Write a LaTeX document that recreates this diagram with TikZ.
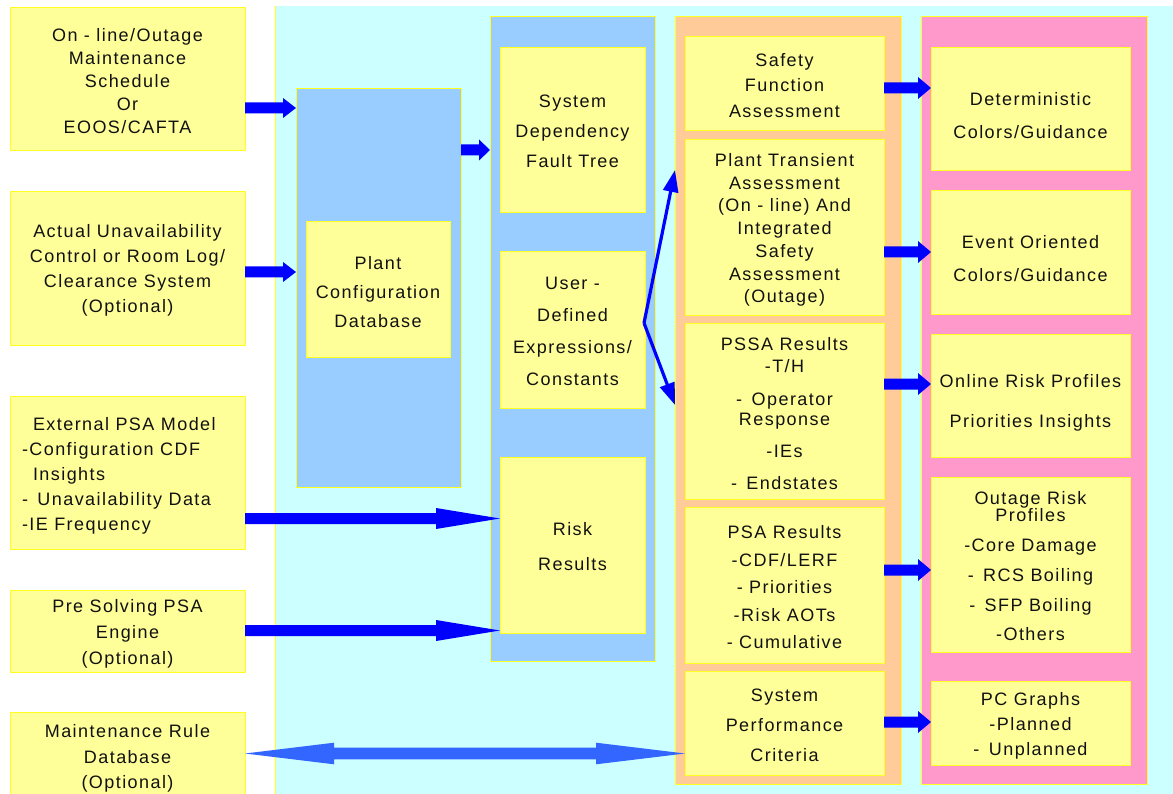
\documentclass[tikz,border=0pt]{standalone}
\usepackage{fontspec}
\setmainfont{Liberation Sans}[LetterSpace=8]
\usetikzlibrary{arrows.meta,calc}
\definecolor{ylw}{HTML}{FFFF99}
\definecolor{yedge}{HTML}{FFFF22}
\definecolor{bluebox}{HTML}{99CCFF}
\definecolor{cyanbg}{HTML}{CCFFFF}
\definecolor{orangebox}{HTML}{FFCC99}
\definecolor{pinkbox}{HTML}{FF99CC}
\definecolor{arrblue}{HTML}{0000FF}
\definecolor{arrblueb}{HTML}{3366FF}
\definecolor{txt}{HTML}{111111}
% block arrow: [colour]{from}{to}{y}{head length}{head half height}
\newcommand\harr[6][arrblue]{%
  \fill[#1] let \p1=(#2), \p2=(#3), \p3=(0,#4) in
    (\x1,\y3+5.5pt) -- (\x2-#5pt,\y3+5.5pt) -- (\x2-#5pt,\y3+#6pt) -- (\x2,\y3)
    -- (\x2-#5pt,\y3-#6pt) -- (\x2-#5pt,\y3-5.5pt) -- (\x1,\y3-5.5pt) -- cycle;}
\newcommand\dharr[6][arrblueb]{%
  \fill[#1] let \p1=(#2), \p2=(#3), \p3=(0,#4) in
    (\x1,\y3) -- (\x1+#5pt,\y3+#6pt) -- (\x1+#5pt,\y3+5.8pt) -- (\x2-#5pt,\y3+5.8pt)
    -- (\x2-#5pt,\y3+#6pt) -- (\x2,\y3) -- (\x2-#5pt,\y3-#6pt) -- (\x2-#5pt,\y3-5.8pt)
    -- (\x1+#5pt,\y3-5.8pt) -- (\x1+#5pt,\y3-#6pt) -- cycle;}
\begin{document}
\begin{tikzpicture}[x=1pt,y=-1pt,
  every node/.style={inner sep=0pt,outer sep=0pt},
  ybox/.style={rectangle,fill=ylw,draw=yedge,line width=0.8pt,align=center,text=txt},
  colbox/.style={rectangle,fill=#1,draw=yedge,line width=0.5pt},
  lsp/.style={font=\fontsize{18}{#1}\selectfont},
  plain/.style={align=center,text=txt},
  thinarr/.style={draw=arrblue,line width=3.2pt,-{Triangle[length=22pt,width=15pt]}},
]
\useasboundingbox (0,0) rectangle (1173,794);
% background panel
\fill[cyanbg] (275,6) rectangle (1180,800);
\draw[yedge,line width=0.6pt] (275,800) -- (275,6);

% left input boxes
\node[ybox,minimum width=235,minimum height=143] (in1) at (127.5,78.5) {};
\node[plain,lsp=23] (in1t) at (127.5,81)
  {On - line/Outage\\Maintenance\\Schedule\\Or\\EOOS/CAFTA};
\node[ybox,minimum width=235,minimum height=154] (in2) at (127.5,268) {};
\node[plain,lsp=25] (in2t) at (127.5,270.5)
  {Actual Unavailability\\Control or Room Log/\\Clearance System\\(Optional)};
\node[ybox,minimum width=235,minimum height=153] (in3) at (127.5,472.5) {};
\node[plain,lsp=25,align=left,anchor=west] (in3t) at (22,476)
  {\hspace*{11pt}External PSA Model\\-Configuration CDF\\\hspace*{11pt}Insights\\- \,Unavailability Data\\-IE Frequency};
\node[ybox,minimum width=235,minimum height=82] (in4) at (127.5,631) {};
\node[plain,lsp=26] (in4t) at (127.5,633.5) {Pre Solving PSA\\Engine\\(Optional)};
\node[ybox,minimum width=235,minimum height=90] (in5) at (127.5,757) {};
\node[plain,lsp=25.5] (in5t) at (127.5,758.5) {Maintenance Rule\\Database\\(Optional)};

% plant configuration database
\node[colbox=bluebox,minimum width=165,minimum height=399] (pcdb) at (378.5,287.5) {};
\node[ybox,minimum width=144,minimum height=136] (pcdbb) at (378,289) {};
\node[plain,lsp=29] (pcdbt) at (378,292) {Plant\\Configuration\\Database};

% blue column
\node[colbox=bluebox,minimum width=165,minimum height=645] (bcol) at (572.5,338.5) {};
\node[ybox,minimum width=145,minimum height=165] (sd) at (572.5,129.5) {};
\node[plain,lsp=30] (sdt) at (572.5,131.5) {System\\Dependency\\Fault Tree};
\node[ybox,minimum width=145,minimum height=157] (ud) at (572.5,329.5) {};
\node[plain,lsp=32] (udt) at (572.5,331) {User -\\Defined\\Expressions/\\Constants};
\node[ybox,minimum width=145,minimum height=176] (rr) at (572.5,545) {};
\node[plain,lsp=35] (rrt) at (572.5,546.5) {Risk\\Results};

% orange column
\node[colbox=orangebox,minimum width=226,minimum height=768] (ocol) at (788,400) {};
\node[ybox,minimum width=199,minimum height=94] (sf) at (784.5,83) {};
\node[plain,lsp=25.5] (sft) at (784.5,85.5) {Safety\\Function\\Assessment};
\node[ybox,minimum width=199,minimum height=176] (pt) at (784.5,227) {};
\node[plain,lsp=22.7] (ptt) at (784.5,230)
  {Plant Transient\\Assessment\\(On - line) And\\Integrated\\Safety\\Assessment\\(Outage)};
\node[ybox,minimum width=199,minimum height=176] (pssa) at (784.5,411) {};
\node[plain,lsp=20] (pssat) at (784.5,414)
  {PSSA Results\\[2pt]-T/H\\[13pt]- \,Operator\\Response\\[12pt]-IEs\\[12pt]- \,Endstates};
\node[ybox,minimum width=199,minimum height=156] (psa) at (784.5,585) {};
\node[plain,lsp=27.5] (psat) at (784.5,587.5)
  {PSA Results\\-CDF/LERF\\- Priorities\\-Risk AOTs\\- Cumulative};
\node[ybox,minimum width=199,minimum height=104] (spc) at (784.5,723) {};
\node[plain,lsp=30] (spct) at (784.5,725.5) {System\\Performance\\Criteria};

% pink column
\node[colbox=pinkbox,minimum width=226,minimum height=768] (pcol) at (1034,400) {};
\node[ybox,minimum width=199,minimum height=123] (det) at (1030.5,108.5) {};
\node[plain,lsp=33] (dett) at (1030.5,115.5) {Deterministic\\Colors/Guidance};
\node[ybox,minimum width=199,minimum height=124] (eo) at (1030.5,252) {};
\node[plain,lsp=33] (eot) at (1030.5,258.5) {Event Oriented\\Colors/Guidance};
\node[ybox,minimum width=199,minimum height=123] (orp) at (1030.5,395.5) {};
\node[plain,lsp=40] (orpt) at (1030.5,403) {Online Risk Profiles\\Priorities Insights};
\node[ybox,minimum width=199,minimum height=175] (outr) at (1030.5,564.5) {};
\node[plain,lsp=17] (outrt) at (1030.5,566.5)
  {Outage Risk\\Profiles\\[12.5pt]-Core Damage\\[13pt]- \,RCS Boiling\\[13pt]- \,SFP Boiling\\[12.5pt]-Others};
\node[ybox,minimum width=199,minimum height=84] (pcg) at (1030.5,723) {};
\node[plain,lsp=25] (pcgt) at (1030.5,726) {PC Graphs\\-Planned\\- \,Unplanned};

% block arrows
\harr{in1.east}{pcdb.west}{108}{13}{10}
\harr{pcdb.east}{bcol.west}{150}{11}{10.5}
\harr{in2.east}{pcdb.west}{272}{13}{10}
\harr{in3.east}{rr.west}{518.5}{64}{10.5}
\harr{in4.east}{rr.west}{630.5}{64}{10.5}
\dharr{in5.east}{spc.west}{753.5}{89}{10.8}
\harr{sf.east}{det.west}{88}{13}{11}
\harr{pt.east}{eo.west}{252}{13}{11}
\harr{pssa.east}{orp.west}{384}{13}{11}
\harr{psa.east}{outr.west}{570}{13}{11}
\harr{spc.east}{pcg.west}{722}{13}{11}

% thin arrows from user-defined expressions
\coordinate (ap) at ([xshift=-1pt,yshift=6.5pt]ud.east);
\draw[thinarr] (ap) -- ([yshift=230pt]ocol.west);
\draw[thinarr] (ap) -- ([yshift=-5pt]ocol.west);
\end{tikzpicture}
\end{document}
